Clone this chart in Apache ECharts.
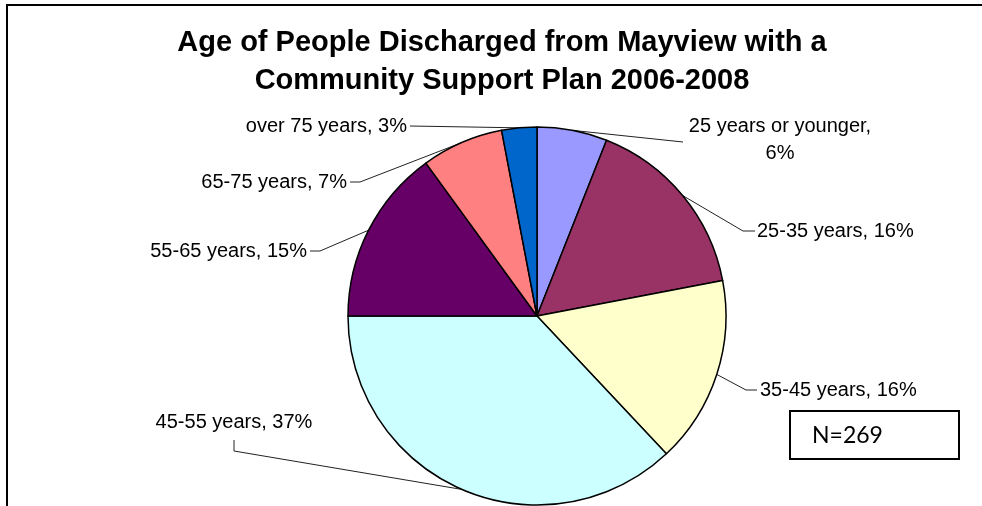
<!DOCTYPE html>
<html>
<head>
<meta charset="utf-8">
<script src="https://cdn.jsdelivr.net/npm/echarts@6/dist/echarts.min.js"></script>
<style>
  html, body { margin: 0; padding: 0; background: #fff; }
  #chart { width: 982px; height: 506px; }
</style>
</head>
<body>
<div id="chart"></div>
<script>
// Age groups and their share (%) of discharges
const ageGroups = [
  '25 years or younger',
  '25-35 years',
  '35-45 years',
  '45-55 years',
  '55-65 years',
  '65-75 years',
  'over 75 years'
];
const shares = [6, 16, 16, 37, 15, 7, 3];
const sliceColors = ['#9999FF', '#993366', '#FFFFCC', '#CCFFFF', '#660066', '#FF8080', '#0066CC'];
const titleLines = ['Age of People Discharged from Mayview with a', 'Community Support Plan 2006-2008'];
const sampleNote = 'N=269';

// Where each data label sits, and the bend points of its leader line
const labelPlacement = [
  { x: 780, y: 140, align: 'center', wrap: true,  bend: [[683, 142], [683, 142]] },
  { x: 757, y: 231, align: 'left',   wrap: false, bend: [[743, 231], [755, 231]] },
  { x: 760, y: 390, align: 'left',   wrap: false, bend: [[746, 390], [757, 390]] },
  { x: 234, y: 422, align: 'center', wrap: false, bend: [[234, 451], [234, 440]] },
  { x: 307, y: 251, align: 'right',  wrap: false, bend: [[320, 251], [310, 251]] },
  { x: 347, y: 182, align: 'right',  wrap: false, bend: [[360, 182], [350, 182]] },
  { x: 407, y: 126, align: 'right',  wrap: false, bend: [[410, 126], [410, 126]] }
];

const chart = echarts.init(document.getElementById('chart'), null, { renderer: 'canvas' });

chart.setOption({
  animation: false,
  backgroundColor: '#ffffff',
  title: {
    text: titleLines.join('\n'),
    left: 502,
    top: 24,
    padding: 0,
    textAlign: 'center',
    textStyle: {
      fontFamily: '"Liberation Sans", Arial, sans-serif',
      fontWeight: 'bold',
      fontSize: 29,
      lineHeight: 38,
      color: '#000'
    }
  },
  graphic: [
    {
      type: 'rect',
      silent: true,
      z: -1,
      shape: { x: 7, y: 5, width: 1100, height: 700 },
      style: { fill: 'none', stroke: '#000', lineWidth: 2 }
    },
    {
      type: 'group',
      left: 789,
      top: 410,
      children: [
        {
          type: 'rect',
          shape: { x: 0, y: 0, width: 169, height: 48 },
          style: { fill: '#fff', stroke: '#000', lineWidth: 2 }
        },
        {
          type: 'text',
          x: 22,
          y: 25,
          style: {
            text: sampleNote,
            fontFamily: 'Lato, "Noto Sans", sans-serif',
            fontSize: 23,
            fill: '#000',
            verticalAlign: 'middle'
          }
        }
      ]
    }
  ],
  series: [
    {
      type: 'pie',
      center: [537, 316],
      radius: 189,
      startAngle: 90,
      clockwise: true,
      avoidLabelOverlap: false,
      percentPrecision: 0,
      emphasis: { disabled: true },
      itemStyle: { borderColor: '#000', borderWidth: 1.5 },
      data: ageGroups.map((name, i) => ({
        name: name,
        value: shares[i],
        itemStyle: { color: sliceColors[i] }
      })),
      label: {
        show: true,
        position: 'outside',
        fontFamily: '"Liberation Sans", Arial, sans-serif',
        fontSize: 20,
        lineHeight: 27,
        color: '#000',
        formatter: (p) => p.name + (labelPlacement[p.dataIndex].wrap ? ',\n' : ', ') + p.percent + '%'
      },
      labelLine: {
        show: true,
        length: 20,
        length2: 10,
        lineStyle: { color: '#222', width: 1 }
      },
      labelLayout: (params) => {
        const spot = labelPlacement[params.dataIndex];
        const arcPoint = params.labelLinePoints ? params.labelLinePoints[0] : null;
        const result = {
          x: spot.x,
          y: spot.y,
          align: spot.align,
          verticalAlign: 'middle'
        };
        if (arcPoint) {
          result.labelLinePoints = [arcPoint, spot.bend[0], spot.bend[1]];
        }
        return result;
      }
    }
  ]
});
</script>
</body>
</html>
